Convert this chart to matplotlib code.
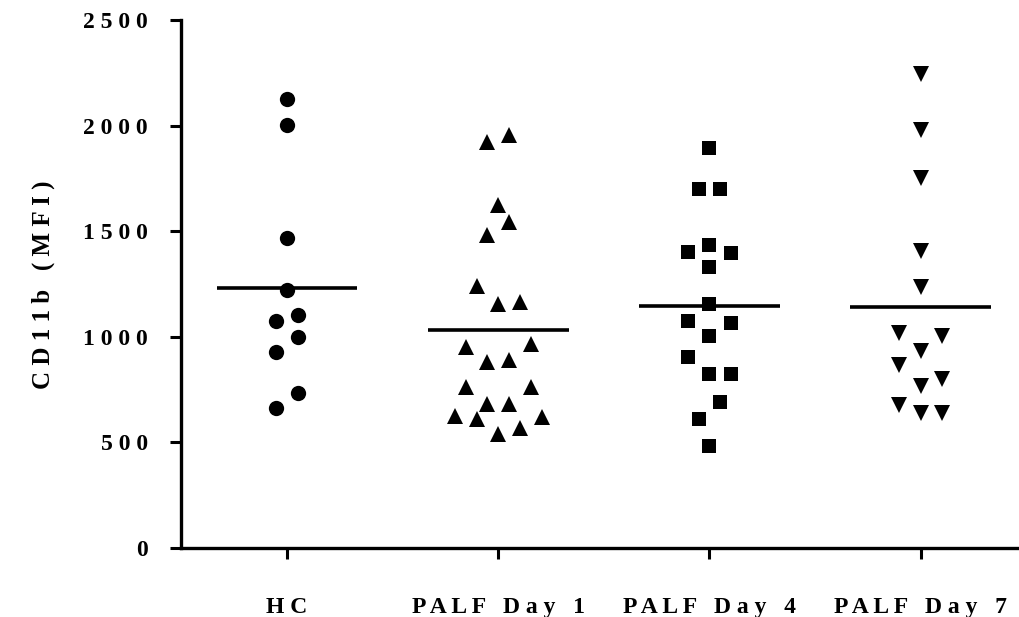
import numpy as np
import matplotlib.pyplot as plt

# valores (CD11b MFI)
groups = ["HC", "PALF Day 1", "PALF Day 4", "PALF Day 7"]
hc = [2125, 2005, 1467, 1220, 1103, 1073, 1000, 928, 735, 664]
day1 = [1955, 1920, 1622, 1543, 1480, 1242, 1163, 1155, 965, 952, 890,
        883, 764, 764, 684, 684, 624, 621, 612, 569, 542]
day4 = [1892, 1702, 1702, 1434, 1400, 1398, 1329, 1155, 1073, 1065, 1004,
        905, 826, 822, 692, 612, 485]
day7 = [2243, 1979, 1752, 1408, 1237, 1018, 1004, 935, 867, 801, 768,
        675, 640, 639]
y_ticks = [0, 500, 1000, 1500, 2000, 2500]

plt.rcParams['font.family'] = ['Liberation Serif', 'DejaVu Serif']
plt.rcParams['font.weight'] = 'bold'


def spaced(s):
    return " ".join(s)


def spread(values, row_h=102, step=0.103):
    # column scatter: close values go in one row, fanned out from the centre
    vals = np.sort(np.asarray(values, dtype=float))
    offs = np.zeros(len(vals))
    i = 0
    while i < len(vals):
        j = i
        while j + 1 < len(vals) and vals[j + 1] - vals[i] <= row_h:
            j += 1
        n = j - i + 1
        if n % 2:
            slots = [0]
            for k in range(1, n // 2 + 1):
                slots += [k, -k]
        else:
            slots = []
            for k in range(n // 2):
                slots += [-(k + 0.5), k + 0.5]
        offs[i:j + 1] = np.array(slots) * step
        i = j + 1
    return vals, offs


fig = plt.figure(figsize=(10.2, 6.17), dpi=100)
ax = fig.add_axes([181 / 1020, 1 - 548 / 617, 1 - 181 / 1020, 528 / 617])

series = [hc, day1, day4, day7]
markers = [('o', 11), ('^', 11.5), ('s', 10.5), ('v', 11.5)]
for i, (vals, (m, ms)) in enumerate(zip(series, markers)):
    v, off = spread(vals)
    ax.plot(i + off, v, linestyle='none', marker=m, markersize=ms,
            color='black', markeredgewidth=0, clip_on=False)
    mean = np.mean(vals)
    ax.plot([i - 0.333, i + 0.333], [mean, mean], color='black', lw=2.6,
            solid_capstyle='butt')

ax.set_xlim(-0.502, 3.47)
ax.set_ylim(0, 2500)
ax.set_xticks(range(len(groups)))
ax.set_xticklabels([spaced(g) for g in groups])
ax.set_yticks(y_ticks)
ax.set_yticklabels([spaced(str(t)) for t in y_ticks])

for side in ['top', 'right']:
    ax.spines[side].set_visible(False)
for side in ['left', 'bottom']:
    ax.spines[side].set_linewidth(2.4)

ax.tick_params(axis='both', direction='out', length=8, width=2.2,
               labelsize=17)
ax.tick_params(axis='y', pad=16)
ax.tick_params(axis='x', pad=27)

fig.text(43 / 1020, 1 - 285 / 617, spaced("CD11b (MFI)"),
         rotation=90, ha='center', va='center', fontsize=18,
         fontweight='bold')

fig.savefig("out.png", dpi=100)
